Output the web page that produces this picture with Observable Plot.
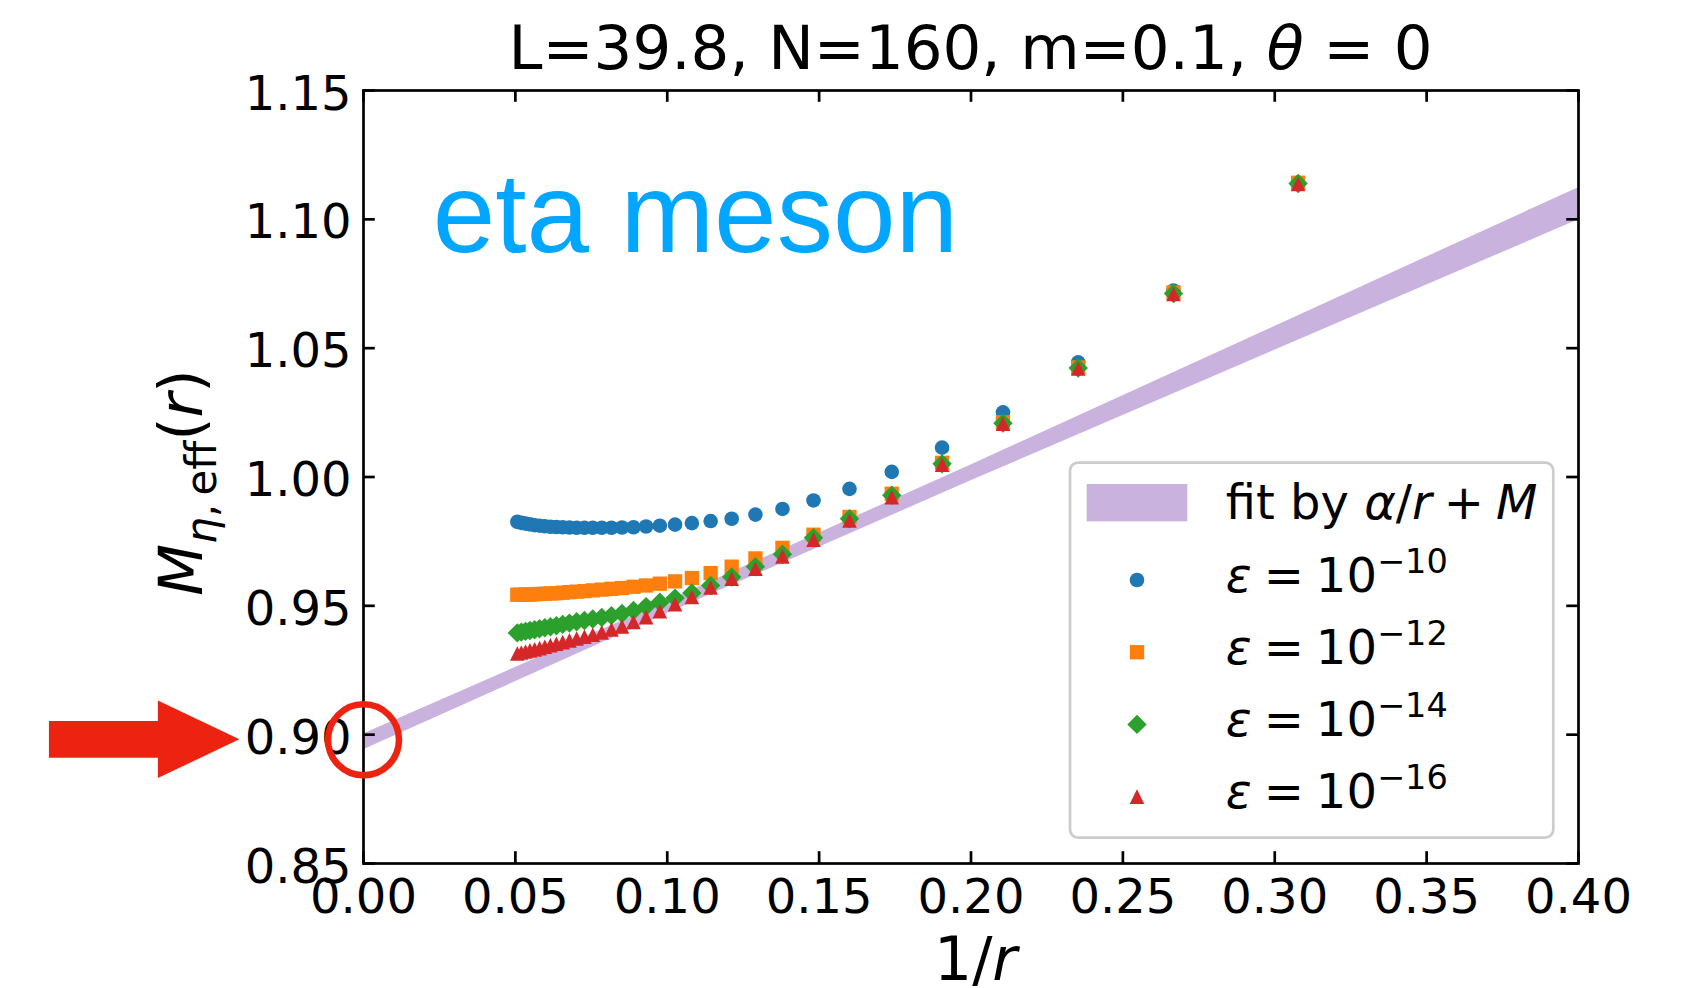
<!DOCTYPE html>
<html>
<head>
<meta charset="utf-8">
<script src="https://cdn.jsdelivr.net/npm/d3@7"></script>
<script src="https://cdn.jsdelivr.net/npm/@observablehq/plot@0.6"></script>
<style>
  body { margin: 0; background: #fff; }
  svg { display: block; }
</style>
</head>
<body>
<div id="chart"></div>
<script>
// ---------------- data ----------------
const rValues = [19.75, 19.25, 18.75, 18.25, 17.75, 17.25, 16.75, 16.25, 15.75, 15.25,
                 14.75, 14.25, 13.75, 13.25, 12.75, 12.25, 11.75, 11.25, 10.75, 10.25,
                 9.75, 9.25, 8.75, 8.25, 7.75, 7.25, 6.75, 6.25, 5.75, 5.25,
                 4.75, 4.25, 3.75, 3.25];

const eps10 = [0.9826, 0.9822, 0.9819, 0.9816, 0.9813, 0.9811, 0.9809, 0.9807, 0.9806, 0.9805,
               0.9804, 0.9803, 0.9803, 0.9803, 0.9803, 0.9803, 0.9804, 0.9805, 0.9808, 0.9811,
               0.9815, 0.9821, 0.9829, 0.9838, 0.9854, 0.9876, 0.9909, 0.9954, 1.0020, 1.0114,
               1.0251, 1.0445, 1.0724, 1.1142];
const eps12 = [0.9543, 0.9543, 0.9544, 0.9544, 0.9545, 0.9546, 0.9547, 0.9548, 0.9549, 0.9551,
               0.9553, 0.9555, 0.9557, 0.9560, 0.9563, 0.9566, 0.9569, 0.9574, 0.9579, 0.9586,
               0.9595, 0.9608, 0.9627, 0.9652, 0.9684, 0.9725, 0.9776, 0.9845, 0.9935, 1.0055,
               1.0212, 1.0425, 1.0716, 1.1142];
const eps14 = [0.9395, 0.9398, 0.9401, 0.9404, 0.9407, 0.9411, 0.9415, 0.9419, 0.9423, 0.9428,
               0.9433, 0.9438, 0.9443, 0.9449, 0.9455, 0.9462, 0.9470, 0.9482, 0.9497, 0.9514,
               0.9530, 0.9550, 0.9579, 0.9612, 0.9652, 0.9700, 0.9764, 0.9838, 0.9929, 1.0051,
               1.0209, 1.0423, 1.0712, 1.1139];
const eps16 = [0.9315, 0.9319, 0.9323, 0.9327, 0.9331, 0.9336, 0.9341, 0.9347, 0.9353, 0.9359,
               0.9366, 0.9373, 0.9380, 0.9388, 0.9397, 0.9408, 0.9420, 0.9437, 0.9456, 0.9479,
               0.9506, 0.9534, 0.9571, 0.9605, 0.9644, 0.9692, 0.9757, 0.9831, 0.9922, 1.0048,
               1.0207, 1.0421, 1.0710, 1.1137];

const fitX    = [0, 0.1, 0.2, 0.3, 0.4];
const fitLow  = [0.8941, 0.9470, 0.9985, 1.0492, 1.0998];
const fitHigh = [0.9003, 0.9518, 1.0047, 1.0584, 1.1123];

const xTicks = [0, 0.05, 0.10, 0.15, 0.20, 0.25, 0.30, 0.35, 0.40];
const yTicks = [0.85, 0.90, 0.95, 1.00, 1.05, 1.10, 1.15];

const exponents = ["10", "12", "14", "16"];
const seriesColors = ["#1f77b4", "#ff7f0e", "#2ca02c", "#d62728"];
const fitColor = "#9467bd";

const titleText = "L=39.8, N=160, m=0.1, ";
const etaLabel = "eta meson";

// annotation anchors (data units)
const annotCircle = {x: 0, y: 0.898};
const arrowTail = {x: -0.1034, y: 0.898};
const arrowTip  = {x: -0.0407, y: 0.898};
const etaPos = {x: 0.0228, y: 1.0874};

// ---------------- symbols (matplotlib-like) ----------------
const rad = size => Math.sqrt(size / Math.PI);
const symCircle = {draw(c, s) { const r = rad(s); c.moveTo(r, 0); c.arc(0, 0, r, 0, 2 * Math.PI); c.closePath(); }};
const symSquare = {draw(c, s) { const r = rad(s) * 0.98; c.rect(-r, -r, 2 * r, 2 * r); }};
const symDiamond = {draw(c, s) { const r = rad(s) * 1.33; c.moveTo(0, -r); c.lineTo(r, 0); c.lineTo(0, r); c.lineTo(-r, 0); c.closePath(); }};
const symTriangle = {draw(c, s) { const r = rad(s) * 1.0; c.moveTo(0, -r); c.lineTo(r, r); c.lineTo(-r, r); c.closePath(); }};
const symbols = [symCircle, symSquare, symDiamond, symTriangle];
const markerR = 7.3;

const seriesValues = [eps10, eps12, eps14, eps16];
const series = seriesValues.map((values, i) => ({
  exp: exponents[i], color: seriesColors[i], symbol: symbols[i],
  data: rValues.map((r, j) => ({x: 1 / r, y: values[j]}))
}));
const fitData = fitX.map((x, i) => ({x, lo: fitLow[i], hi: fitHigh[i]}));

// ---------------- rich text helper ----------------
function richText(parts, x, y, {anchor = "start", rotate = 0, size = 48, fill = "black"} = {}) {
  const text = d3.create("svg:text")
    .attr("transform", `translate(${x},${y})` + (rotate ? ` rotate(${rotate})` : ""))
    .attr("text-anchor", anchor)
    .attr("font-family", "DejaVu Sans")
    .attr("font-size", size)
    .attr("fill", fill)
    .style("white-space", "pre");
  let cur = 0;
  for (const p of parts) {
    const ts = text.append("tspan").text(p.t);
    if (p.it) ts.attr("font-style", "italic");
    if (p.size) ts.attr("font-size", p.size);
    const shift = p.shift || 0;
    if (shift !== cur) { ts.attr("dy", shift - cur); cur = shift; }
  }
  return text.node();
}

const W = 1686, H = 988;
const M = {top: 90, right: 108, bottom: 125, left: 363};
const tickLen = 11.8, lineW = 2.7;
const frameW = W - M.left - M.right, frameH = H - M.top - M.bottom;
const fmt = d3.format(".2f");
const sp = "\u2005"; // math-operator spacing

function titleMark(index, scales, values, d) {
  const cx = d.marginLeft + (d.width - d.marginLeft - d.marginRight) / 2;
  return richText([{t: titleText}, {t: "θ", it: true}, {t: " = 0"}], cx, d.marginTop - 21, {anchor: "middle", size: 61});
}
function xLabelMark(index, scales, values, d) {
  const cx = d.marginLeft + (d.width - d.marginLeft - d.marginRight) / 2 + 5;
  return richText([{t: "1/"}, {t: "r", it: true}], cx, d.height - 8, {anchor: "middle", size: 60});
}
function yLabelMark(index, scales, values, d) {
  const cy = d.marginTop + (d.height - d.marginTop - d.marginBottom) / 2 + 6;
  return richText([
    {t: "M", it: true},
    {t: "η", it: true, size: 42, shift: 14},
    {t: ",\u2009eff", size: 42, shift: 14},
    {t: "(", shift: 0},
    {t: "r", it: true},
    {t: ")"}
  ], d.marginLeft - 161, cy, {anchor: "middle", rotate: -90, size: 60});
}
function arrowMark(index, scales, values, d) {
  const x0 = scales.x(arrowTail.x), x1 = scales.x(arrowTip.x), y = scales.y(arrowTip.y);
  const hl = 81.5, hw = 38.7, sw = 18.4;
  return d3.create("svg:path")
    .attr("d", `M${x0},${y - sw}L${x1 - hl},${y - sw}L${x1 - hl},${y - hw}L${x1},${y}L${x1 - hl},${y + hw}L${x1 - hl},${y + sw}L${x0},${y + sw}Z`)
    .attr("fill", "#ee2211").node();
}
function legendMark(index, scales, values, d) {
  const right = d.width - d.marginRight - 24.7, bottom = d.height - d.marginBottom - 25.4;
  const w = 483.3, h = 374.9, left = right - w, top = bottom - h;
  const g = d3.create("svg:g");
  g.append("rect").attr("x", left).attr("y", top).attr("width", w).attr("height", h)
    .attr("rx", 8).attr("fill", "white").attr("fill-opacity", 0.8)
    .attr("stroke", "#cccccc").attr("stroke-width", lineW);
  g.append("rect").attr("x", left + 16.7).attr("y", top + 21.3).attr("width", 100.6).attr("height", 37.3)
    .attr("fill", fitColor).attr("fill-opacity", 0.5);
  g.append(() => richText([{t: "fit by "}, {t: "α", it: true}, {t: "/"}, {t: "r", it: true}, {t: sp + "+" + sp}, {t: "M", it: true}],
    left + 155.7, top + 56.3, {size: 48}));
  series.forEach((s, i) => {
    const base = top + 129 + i * 72.2;
    g.append("path")
      .attr("transform", `translate(${left + 67},${base - 11.7})`)
      .attr("d", d3.symbol(s.symbol, Math.PI * markerR * markerR)())
      .attr("fill", s.color);
    g.append(() => richText([{t: "ε", it: true}, {t: sp + "=" + sp + "10"}, {t: "\u2212" + s.exp, size: 33.6, shift: -19}],
      left + 155.7, base, {size: 48}));
  });
  return g.node();
}

const chart = Plot.plot({
  width: W,
  height: H,
  marginTop: M.top,
  marginRight: M.right,
  marginBottom: M.bottom,
  marginLeft: M.left,
  style: {fontFamily: "DejaVu Sans", background: "white", overflow: "visible"},
  x: {domain: [0, 0.4], axis: null},
  y: {domain: [0.85, 1.15], axis: null},
  marks: [
    Plot.areaY(fitData, {x: "x", y1: "lo", y2: "hi", fill: fitColor, fillOpacity: 0.5, clip: true}),
    ...series.map(s => Plot.dot(s.data, {x: "x", y: "y", r: markerR, fill: s.color, symbol: s.symbol})),
    Plot.text([{...etaPos, label: etaLabel}], {
      x: "x", y: "y", text: "label", textAnchor: "start", lineAnchor: "bottom",
      fontSize: 112.5, fontFamily: "Liberation Sans", fill: "#00a6ff"
    }),
    Plot.frame({stroke: "black", strokeWidth: lineW}),
    // inward ticks on all four sides
    Plot.tickX(xTicks, {x: d => d, insetTop: frameH - tickLen, stroke: "black", strokeWidth: lineW}),
    Plot.tickX(xTicks, {x: d => d, insetBottom: frameH - tickLen, stroke: "black", strokeWidth: lineW}),
    Plot.tickY(yTicks, {y: d => d, insetRight: frameW - tickLen, stroke: "black", strokeWidth: lineW}),
    Plot.tickY(yTicks, {y: d => d, insetLeft: frameW - tickLen, stroke: "black", strokeWidth: lineW}),
    // tick labels
    Plot.text(xTicks, {x: d => d, frameAnchor: "bottom", dy: 49.7, lineAnchor: "bottom", text: d => fmt(d), fontSize: 48, fill: "black"}),
    Plot.text(yTicks, {y: d => d, frameAnchor: "left", dx: -12, dy: 19, textAnchor: "end", lineAnchor: "bottom", text: d => fmt(d), fontSize: 48, fill: "black"}),
    legendMark,
    titleMark,
    xLabelMark,
    yLabelMark,
    arrowMark,
    Plot.dot([annotCircle], {x: "x", y: "y", r: 35.5, stroke: "#ee2211", strokeWidth: 6.5, fill: "none"})
  ]
});
document.getElementById("chart").appendChild(chart);
</script>
</body>
</html>
